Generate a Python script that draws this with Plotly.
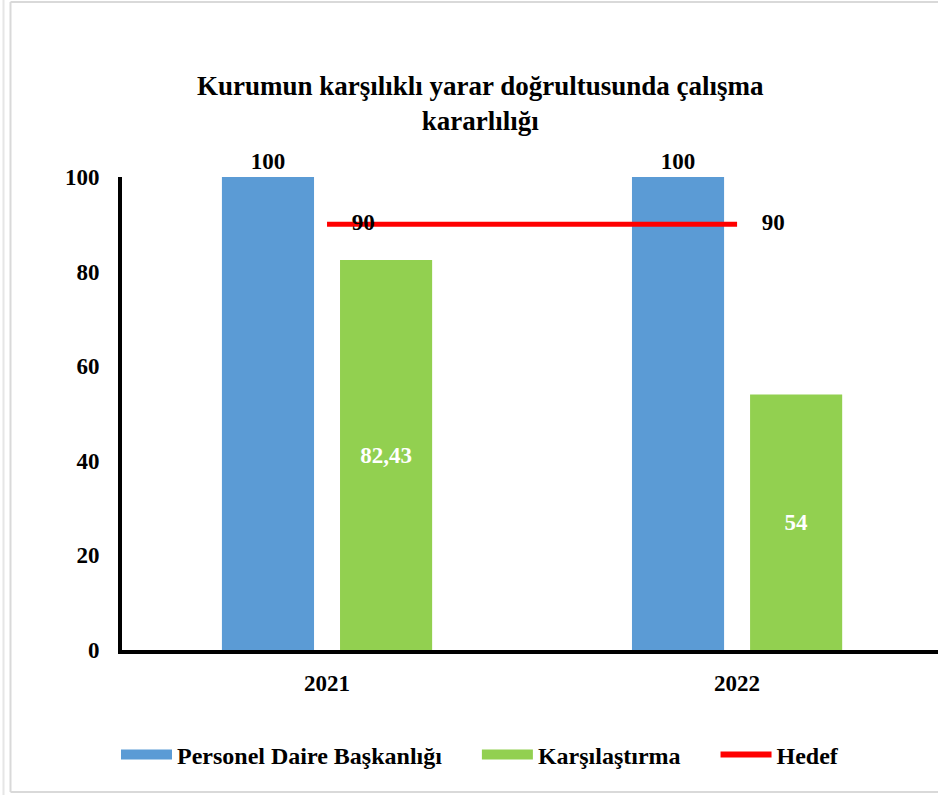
import plotly.graph_objects as go

categories = ["2021", "2022"]
personel = [100, 100]
karsilastirma = [82.43, 54]
hedef = [90, 90]
legend_names = ["Personel Daire Başkanlığı", "Karşılaştırma", "Hedef"]
title_text = "Kurumun karşılıklı yarar doğrultusunda çalışma<br>kararlılığı"

def fmt(v):
    return f"{v:g}".replace(".", ",")

FONT = "Liberation Serif, Times New Roman, Tinos, serif"
fs = 23
BF = dict(family=FONT, size=fs, color="black", weight="bold")
BLUE, GREEN, RED = "#5B9BD5", "#92D050", "#FF0000"

fig = go.Figure()
fig.add_trace(go.Bar(
    x=categories, y=personel, name=legend_names[0],
    marker=dict(color=BLUE, line=dict(width=0)),
    text=[fmt(v) for v in personel], textposition="outside",
    textfont=BF, cliponaxis=False, showlegend=False,
))
fig.add_trace(go.Bar(
    x=categories, y=karsilastirma, name=legend_names[1],
    marker=dict(color=GREEN, line=dict(width=0)),
    text=[fmt(v) for v in karsilastirma], textposition="inside",
    insidetextanchor="middle",
    textfont=dict(BF, color="white"), showlegend=False,
))
fig.add_trace(go.Scatter(
    x=categories, y=hedef, name=legend_names[2],
    mode="lines+markers+text",
    line=dict(color=RED, width=5),
    marker=dict(size=38, color="rgba(0,0,0,0)"),
    text=[fmt(v) for v in hedef], textposition="middle right",
    textfont=BF, cliponaxis=False, showlegend=False,
))
# legend entries
pads = [5, 5, 0]
for name, color, w, p in zip(legend_names, [BLUE, GREEN, RED], [12, 12, 6], pads):
    fig.add_trace(go.Scatter(x=[None], y=[None], mode="lines",
                             name=name + "\u00a0" * p,
                             line=dict(color=color, width=w)))

fig.update_layout(
    width=938, height=795,
    margin=dict(l=122, r=0, t=177, b=145),
    paper_bgcolor="white", plot_bgcolor="white",
    font=dict(family=FONT, size=fs, color="black"),
    barmode="group", bargap=0.424, bargroupgap=0.22,
    title=dict(
        text=title_text,
        x=0.512, xanchor="center", xref="container",
        y=0.881, yanchor="middle", yref="container",
        font=dict(BF, size=27),
    ),
    xaxis=dict(
        type="category", range=[-0.5, 1.49],
        showline=True, linecolor="black", linewidth=4,
        showgrid=False, ticks="", ticklabelstandoff=9,
        tickfont=BF,
    ),
    yaxis=dict(
        range=[0, 100], dtick=20,
        showline=True, linecolor="black", linewidth=4,
        showgrid=False, zeroline=False, ticks="", ticklabelstandoff=14,
        tickfont=BF,
    ),
    legend=dict(
        orientation="h", x=(116 - 122) / 816, xanchor="left",
        y=-0.222, yanchor="middle",
        font=dict(BF, size=24), itemwidth=51, tracegroupgap=0,
    ),
    showlegend=True,
)
fig.add_shape(type="line", xref="paper", yref="paper",
              x0=-(122 - 10.5) / 816, x1=-(122 - 10.5) / 816,
              y0=(650 - 2) / 473, y1=(650 - 792) / 473,
              line=dict(color="#D9D9D9", width=2))
fig.add_shape(type="line", xref="paper", yref="paper",
              x0=-(122 - 10.5) / 816, x1=1.01,
              y0=(650 - 2) / 473, y1=(650 - 2) / 473,
              line=dict(color="#D9D9D9", width=2))
fig.add_shape(type="line", xref="paper", yref="paper",
              x0=-(122 - 10.5) / 816, x1=1.01,
              y0=(650 - 792) / 473, y1=(650 - 792) / 473,
              line=dict(color="#D9D9D9", width=2))
fig.add_shape(type="line", xref="paper", yref="paper",
              x0=-(122 - 3.5) / 816, x1=-(122 - 3.5) / 816,
              y0=(650 - 0) / 473, y1=(650 - 795) / 473,
              line=dict(color="#E6E6E6", width=2))

fig.write_html("out.html", config={"displayModeBar": False},
               post_script="document.body.style.margin='0';document.body.style.overflow='hidden';")
